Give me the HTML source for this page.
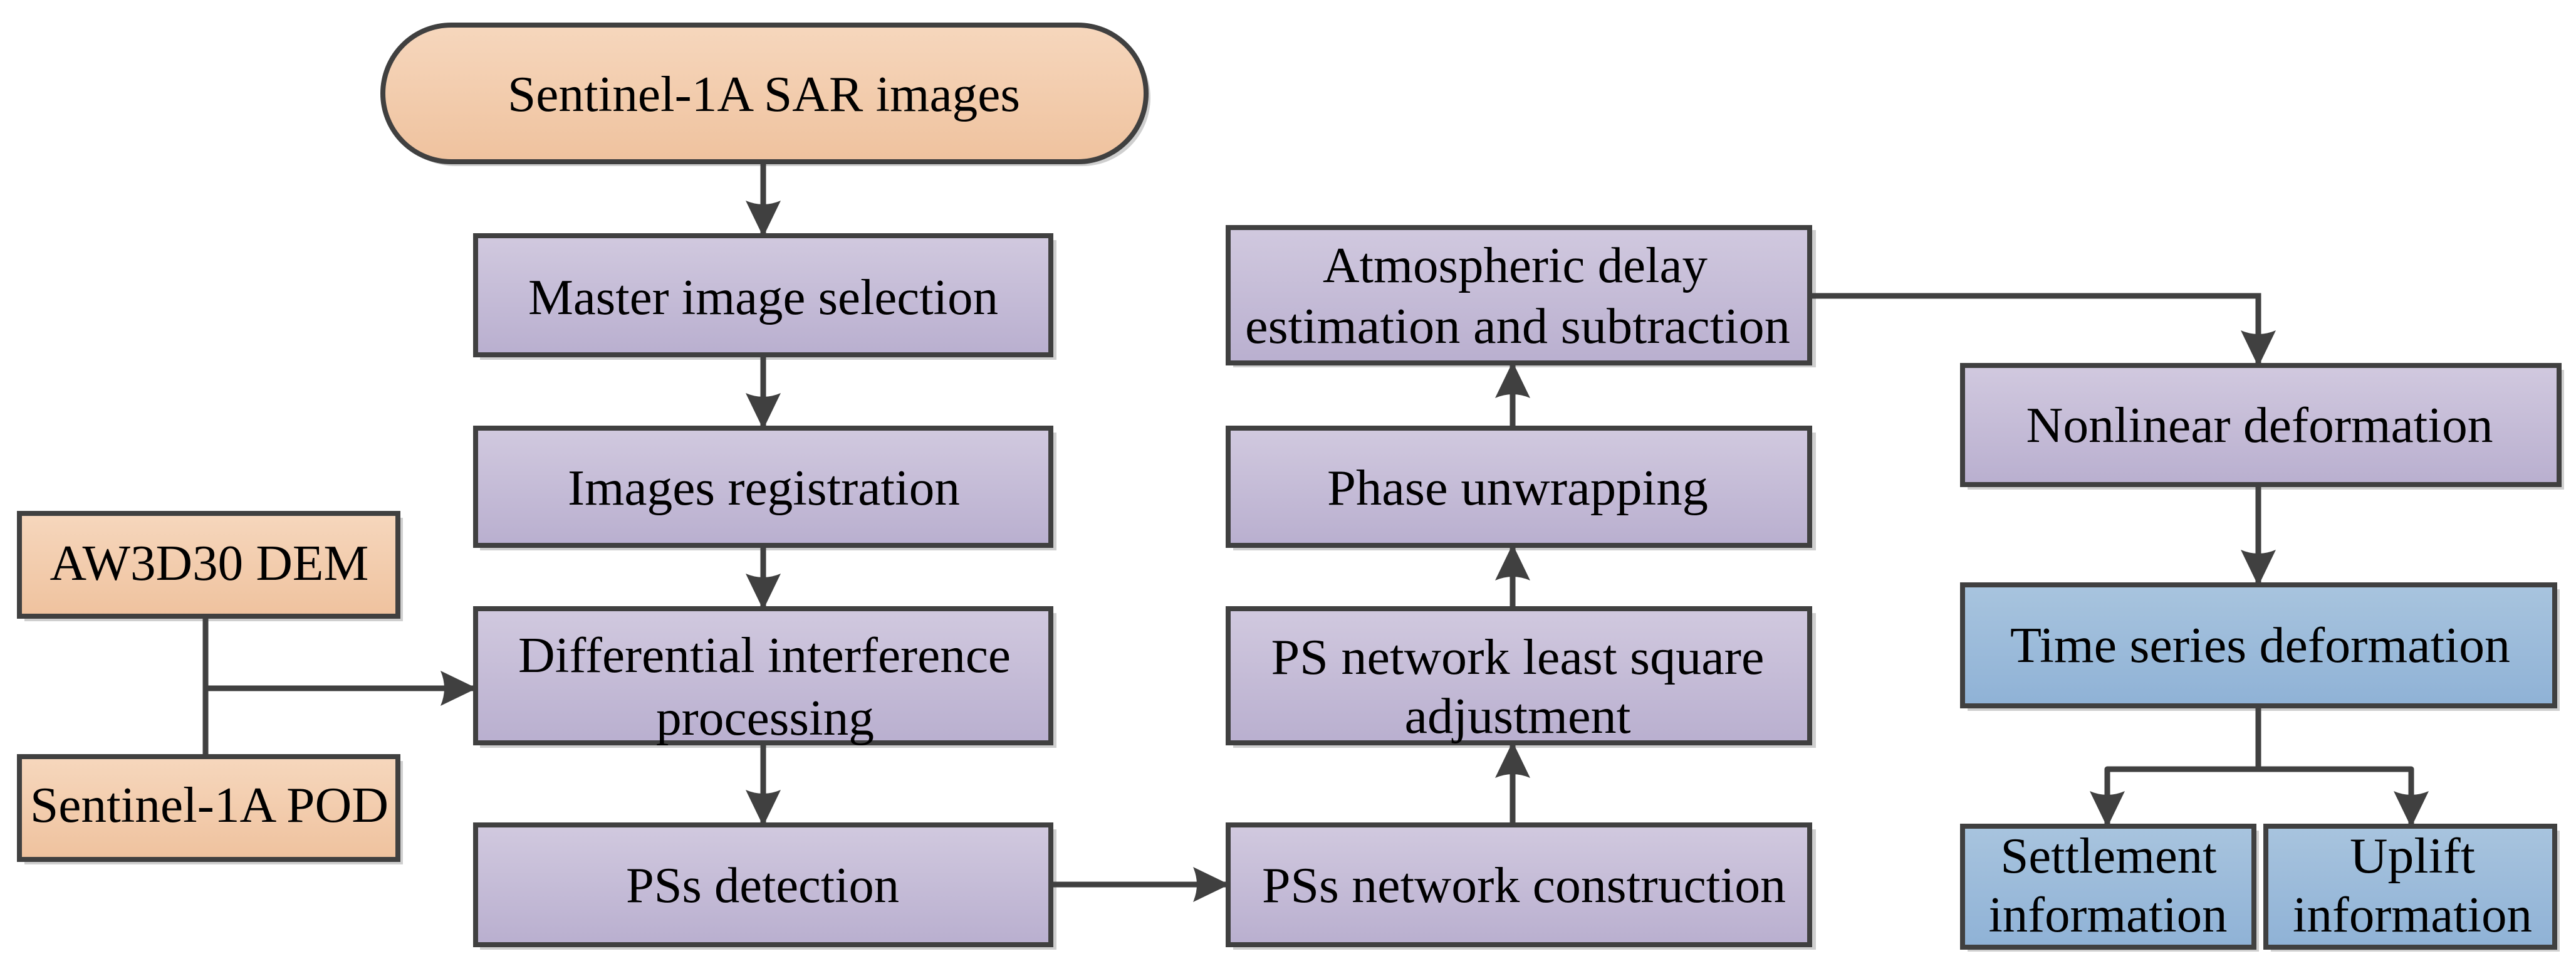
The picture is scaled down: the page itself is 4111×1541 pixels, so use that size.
<!DOCTYPE html>
<html><head><meta charset="utf-8"><style>
html,body{margin:0;padding:0;background:#fff;}
svg{display:block;}
text{font-family:"Liberation Serif",serif;font-size:80px;fill:#000;text-anchor:middle;}
</style></head><body>
<svg width="4111" height="1541" viewBox="0 0 4111 1541" xmlns="http://www.w3.org/2000/svg">
<defs>
<linearGradient id="pu" x1="0" y1="0" x2="0" y2="1"><stop offset="0" stop-color="#d1c9df"/><stop offset="1" stop-color="#b9afcf"/></linearGradient>
<linearGradient id="or" x1="0" y1="0" x2="0" y2="1"><stop offset="0" stop-color="#f6d7bd"/><stop offset="1" stop-color="#efc29e"/></linearGradient>
<linearGradient id="bl" x1="0" y1="0" x2="0" y2="1"><stop offset="0" stop-color="#a8c4de"/><stop offset="1" stop-color="#8fb2d6"/></linearGradient>
<marker id="ar" viewBox="0 0 60 60" markerWidth="60" markerHeight="60" refX="56" refY="30" markerUnits="userSpaceOnUse" orient="auto">
<path d="M0,2 L58,30 L0,58 Q12,30 0,2 Z" fill="#404040"/></marker>
</defs>
<g fill="#cfcfcf">
<rect x="618" y="47" width="1218" height="218" rx="109"/>
<rect x="766" y="383" width="920" height="191"/>
<rect x="766" y="690" width="920" height="188"/>
<rect x="766" y="978" width="920" height="215"/>
<rect x="766" y="1323" width="920" height="192"/>
<rect x="39" y="826" width="604" height="165"/>
<rect x="39" y="1214" width="604" height="165"/>
<rect x="1968" y="367" width="930" height="219"/>
<rect x="1968" y="690" width="930" height="188"/>
<rect x="1968" y="978" width="930" height="215"/>
<rect x="1968" y="1323" width="930" height="192"/>
<rect x="3140" y="590" width="952" height="191"/>
<rect x="3140" y="940" width="945" height="194"/>
<rect x="3140" y="1325" width="465" height="193"/>
<rect x="3624" y="1325" width="461" height="193"/>
</g>
<g stroke="#404040" stroke-width="8">
<rect x="611" y="40" width="1218" height="218" rx="109" fill="url(#or)"/>
<rect x="759" y="376" width="918" height="190" fill="url(#pu)"/>
<rect x="759" y="683" width="918" height="187" fill="url(#pu)"/>
<rect x="759" y="971" width="918" height="214" fill="url(#pu)"/>
<rect x="759" y="1316" width="918" height="191" fill="url(#pu)"/>
<rect x="31" y="819" width="604" height="164" fill="url(#or)"/>
<rect x="31" y="1207" width="604" height="164" fill="url(#or)"/>
<rect x="1960" y="363" width="928" height="216" fill="url(#pu)"/>
<rect x="1960" y="683" width="928" height="187" fill="url(#pu)"/>
<rect x="1960" y="971" width="928" height="214" fill="url(#pu)"/>
<rect x="1960" y="1316" width="928" height="191" fill="url(#pu)"/>
<rect x="3132" y="583" width="952" height="190" fill="url(#pu)"/>
<rect x="3132" y="933" width="945" height="193" fill="url(#bl)"/>
<rect x="3132" y="1318" width="465" height="193" fill="url(#bl)"/>
<rect x="3616" y="1318" width="461" height="193" fill="url(#bl)"/>
</g>
<g stroke="#404040" stroke-width="9" fill="none">
<path d="M1218,258 V376" marker-end="url(#ar)"/>
<path d="M1218,566 V683" marker-end="url(#ar)"/>
<path d="M1218,870 V971" marker-end="url(#ar)"/>
<path d="M1218,1185 V1316" marker-end="url(#ar)"/>
<path d="M328,983 V1207"/>
<path d="M328,1098 H759" marker-end="url(#ar)"/>
<path d="M1677,1411 H1960" marker-end="url(#ar)"/>
<path d="M2414,1316 V1185" marker-end="url(#ar)"/>
<path d="M2414,971 V870" marker-end="url(#ar)"/>
<path d="M2414,683 V579" marker-end="url(#ar)"/>
<path d="M2888,472 H3604 V583" marker-end="url(#ar)"/>
<path d="M3604,773 V933" marker-end="url(#ar)"/>
<path d="M3604,1126 V1227"/>
<path d="M3363,1318 V1227 H3848 V1318" stroke-linejoin="round"/>
<path d="M3363,1227 V1318" marker-end="url(#ar)"/>
<path d="M3848,1227 V1318" marker-end="url(#ar)"/>
</g>
<text x="1219" y="177" textLength="818" lengthAdjust="spacingAndGlyphs">Sentinel-1A SAR images</text>
<text x="1218" y="501" textLength="750" lengthAdjust="spacingAndGlyphs">Master image selection</text>
<text x="1219" y="805" textLength="626" lengthAdjust="spacingAndGlyphs">Images registration</text>
<text x="1220" y="1072" textLength="786" lengthAdjust="spacingAndGlyphs">Differential interference</text>
<text x="1221" y="1172" textLength="348" lengthAdjust="spacingAndGlyphs">processing</text>
<text x="1217" y="1439" textLength="436" lengthAdjust="spacingAndGlyphs">PSs detection</text>
<text x="334" y="925" textLength="509" lengthAdjust="spacingAndGlyphs">AW3D30 DEM</text>
<text x="334" y="1311" textLength="572" lengthAdjust="spacingAndGlyphs">Sentinel-1A POD</text>
<text x="2418" y="450" textLength="614" lengthAdjust="spacingAndGlyphs">Atmospheric delay</text>
<text x="2422" y="547" textLength="870" lengthAdjust="spacingAndGlyphs">estimation and subtraction</text>
<text x="2422" y="805" textLength="608" lengthAdjust="spacingAndGlyphs">Phase unwrapping</text>
<text x="2422" y="1075" textLength="787" lengthAdjust="spacingAndGlyphs">PS network least square</text>
<text x="2422" y="1169" textLength="361" lengthAdjust="spacingAndGlyphs">adjustment</text>
<text x="2432" y="1439" textLength="836" lengthAdjust="spacingAndGlyphs">PSs network construction</text>
<text x="3606" y="705" textLength="745" lengthAdjust="spacingAndGlyphs">Nonlinear deformation</text>
<text x="3607" y="1056" textLength="798" lengthAdjust="spacingAndGlyphs">Time series deformation</text>
<text x="3365" y="1392" textLength="345" lengthAdjust="spacingAndGlyphs">Settlement</text>
<text x="3364" y="1486" textLength="381" lengthAdjust="spacingAndGlyphs">information</text>
<text x="3850" y="1392" textLength="200" lengthAdjust="spacingAndGlyphs">Uplift</text>
<text x="3850" y="1486" textLength="382" lengthAdjust="spacingAndGlyphs">information</text>
</svg>
</body></html>
